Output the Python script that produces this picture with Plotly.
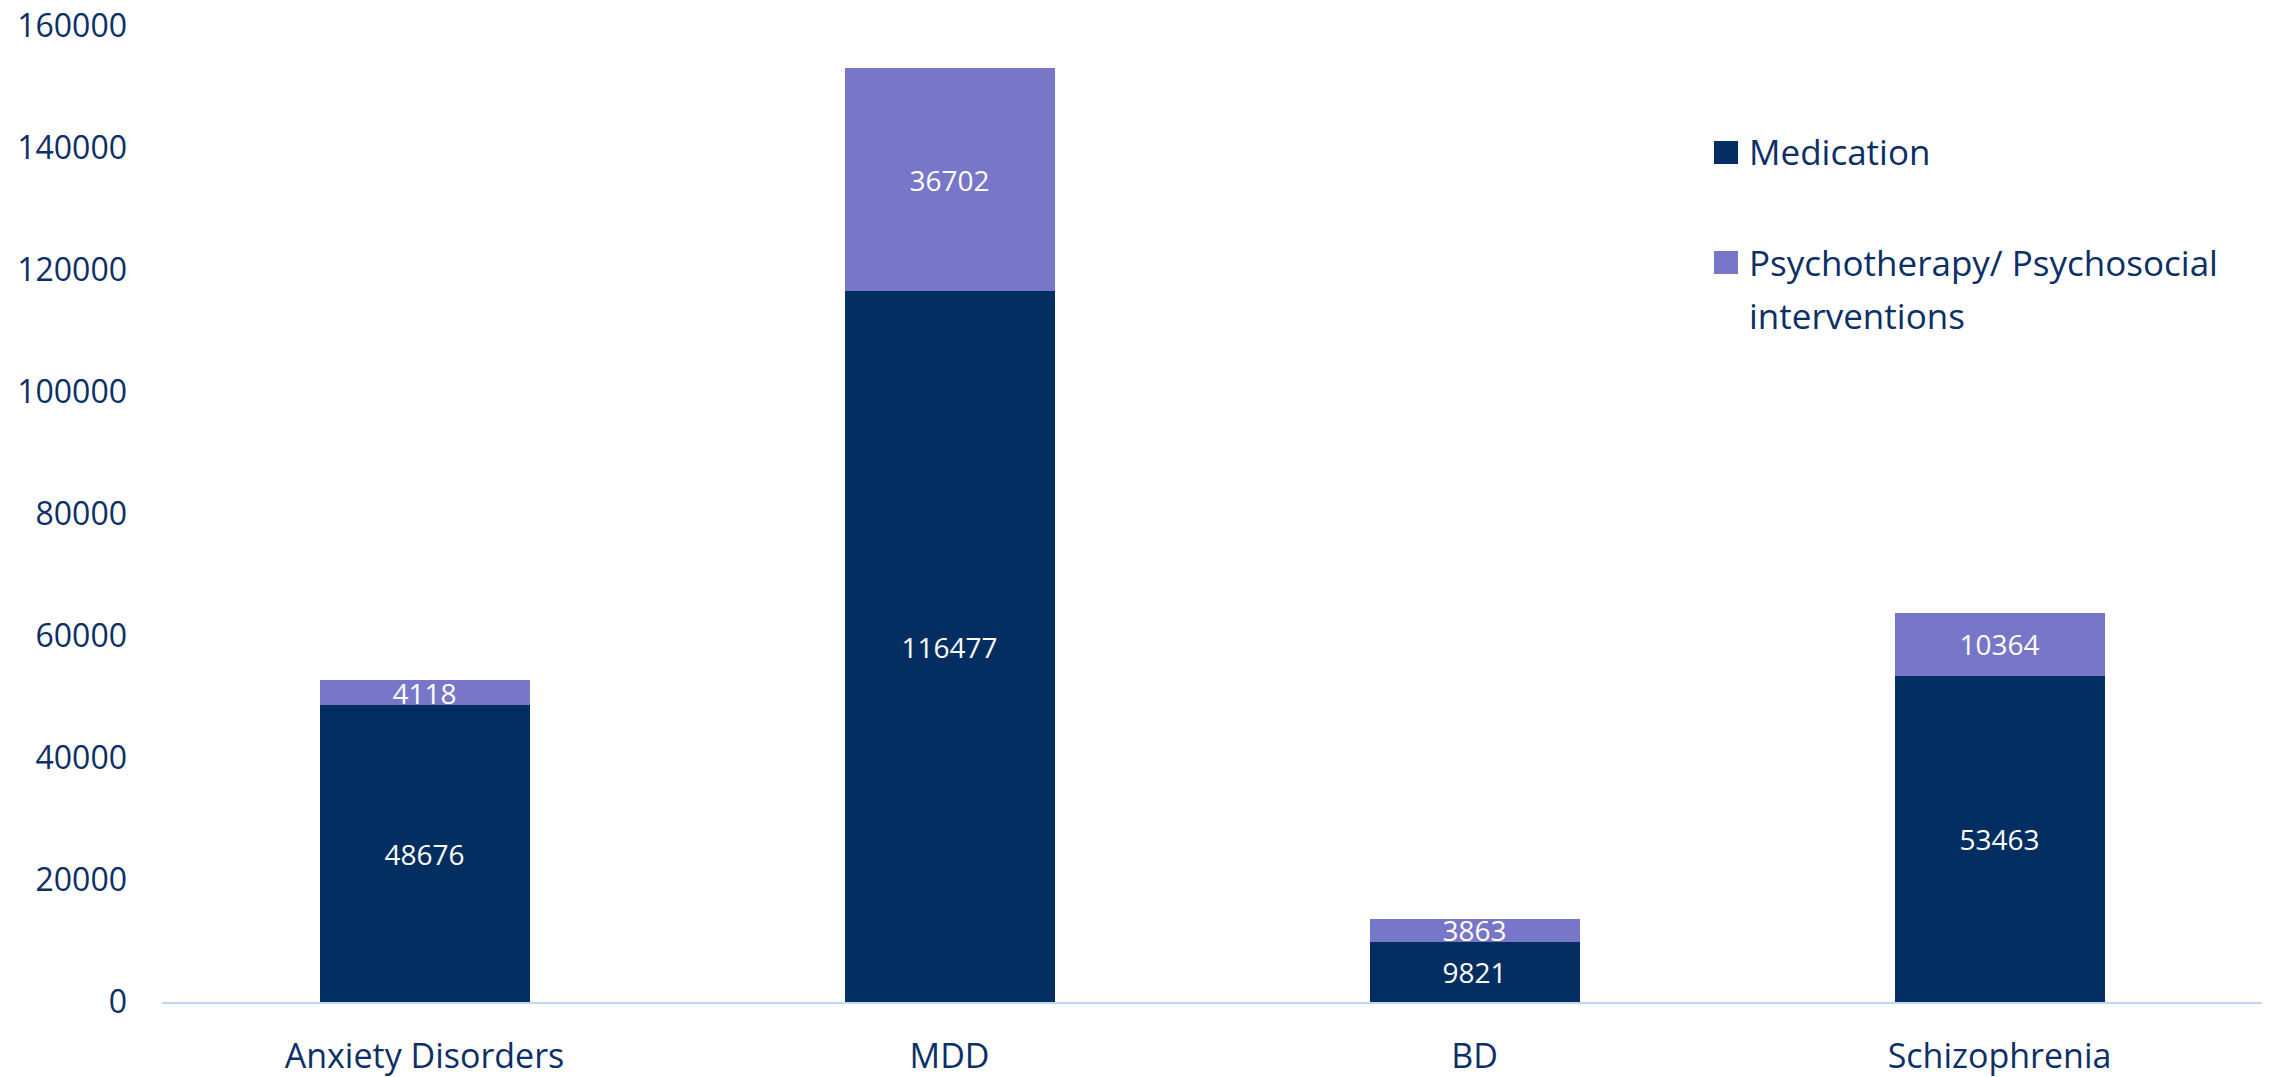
import plotly.graph_objects as go

categories = ["Anxiety Disorders", "MDD", "BD", "Schizophrenia"]
medication = [48676, 116477, 9821, 53463]
psychotherapy = [4118, 36702, 3863, 10364]
series_names = ["Medication", "Psychotherapy/ Psychosocial", "interventions"]
y_ticks = [0, 20000, 40000, 60000, 80000, 100000, 120000, 140000, 160000]

# the page body has an 8px margin; the figure starts at (8, 8) on screen
OFF = 8
W, H = 2271 - OFF, 1077 - OFF
ML, MT = 162 - OFF, 26 - OFF
MR = W - (2262 - OFF)
MB = H - (1002 - OFF)
PW, PH = W - ML - MR, H - MT - MB

C_MED = "#032E62"
C_PSY = "#7776C9"
C_TXT = "#0B2F66"
FONT = "'Open Sans', Lato, sans-serif"


def px_x(x):
    # screen pixel -> paper fraction
    return (x - OFF - ML) / PW


def px_y(y):
    return (H - MB - (y - OFF)) / PH


fig = go.Figure()
fig.add_trace(go.Bar(
    x=categories, y=medication, name="Medication",
    marker=dict(color=C_MED, line=dict(width=0)),
    text=[str(v) for v in medication], textposition="inside",
    insidetextanchor="middle", textangle=0, constraintext="none",
    textfont=dict(color="white", size=28, family=FONT),
    showlegend=False, cliponaxis=False,
))
fig.add_trace(go.Bar(
    x=categories, y=psychotherapy, name="Psychotherapy/ Psychosocial interventions",
    marker=dict(color=C_PSY, line=dict(width=0)),
    text=[str(v) for v in psychotherapy], textposition="inside",
    insidetextanchor="middle", textangle=0, constraintext="none",
    textfont=dict(color="white", size=28, family=FONT),
    showlegend=False, cliponaxis=False,
))

# legend drawn manually (squares + text)
shapes = [
    dict(type="rect", xref="paper", yref="paper",
         x0=px_x(1714), x1=px_x(1738), y0=px_y(164), y1=px_y(141),
         fillcolor=C_MED, line=dict(width=0)),
    dict(type="rect", xref="paper", yref="paper",
         x0=px_x(1714), x1=px_x(1738), y0=px_y(274), y1=px_y(251),
         fillcolor=C_PSY, line=dict(width=0)),
]
annotations = [
    dict(text=series_names[0], xref="paper", yref="paper", x=px_x(1747), y=px_y(152),
         xanchor="left", yanchor="middle", showarrow=False,
         font=dict(size=35, color=C_TXT, family=FONT)),
    dict(text=series_names[1], xref="paper", yref="paper", x=px_x(1747), y=px_y(263),
         xanchor="left", yanchor="middle", showarrow=False,
         font=dict(size=35, color=C_TXT, family=FONT)),
    dict(text=series_names[2], xref="paper", yref="paper", x=px_x(1747), y=px_y(315),
         xanchor="left", yanchor="middle", showarrow=False,
         font=dict(size=35, color=C_TXT, family=FONT)),
]

fig.update_layout(
    width=W, height=H,
    margin=dict(l=ML, r=MR, t=MT, b=MB, pad=0, autoexpand=False),
    barmode="stack", bargap=0.6,
    plot_bgcolor="white", paper_bgcolor="white",
    font=dict(family=FONT, color=C_TXT),
    shapes=shapes, annotations=annotations,
    showlegend=False,
    xaxis=dict(
        showgrid=False, zeroline=False, automargin=False,
        showline=True, linecolor="#BFD9F2", linewidth=2,
        ticks="", ticklabelstandoff=23, ticklabeloverflow="allow",
        tickfont=dict(size=34, color=C_TXT, family=FONT),
    ),
    yaxis=dict(
        range=[0, 160000], tickvals=y_ticks, ticktext=[str(v) for v in y_ticks],
        showgrid=False, zeroline=False, showline=False, automargin=False,
        ticks="", ticklabelstandoff=34, ticklabeloverflow="allow",
        tickfont=dict(size=32, color=C_TXT, family=FONT),
    ),
)

fig.write_html("out.html")
